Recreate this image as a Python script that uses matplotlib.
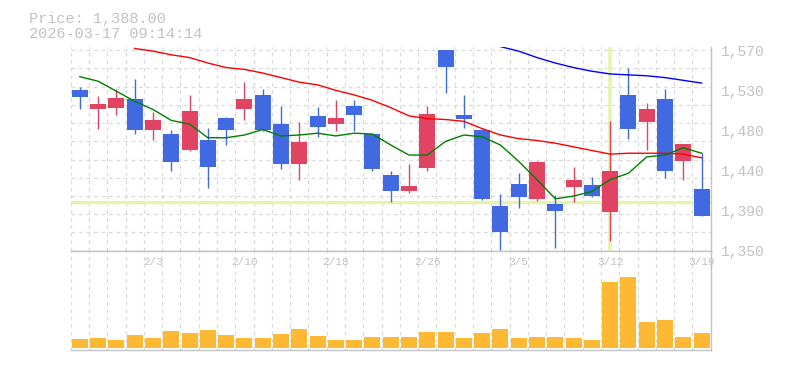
import numpy as np
import matplotlib
matplotlib.use("Agg")
import matplotlib.pyplot as plt
import matplotlib.transforms as mtransforms

# ---- Data ----
dates = ["1/28", "1/29", "1/30", "2/2", "2/3", "2/4", "2/5", "2/6", "2/9", "2/10",
         "2/12", "2/13", "2/16", "2/17", "2/18", "2/19", "2/20", "2/24", "2/25", "2/26",
         "2/27", "3/2", "3/3", "3/4", "3/5", "3/6", "3/9", "3/10", "3/11", "3/12",
         "3/13", "3/16", "3/17", "3/18", "3/19"]

opens = [1526, 1505, 1507, 1516, 1482, 1478, 1461, 1471, 1496, 1505,
         1521, 1489, 1445, 1498, 1489, 1509, 1478, 1433, 1416, 1441,
         1570, 1499, 1482, 1399, 1423, 1407, 1401, 1420, 1422, 1393,
         1521, 1491, 1516, 1449, 1418]
highs = [1530, 1520, 1527, 1538, 1502, 1483, 1521, 1485, 1497, 1535,
         1527, 1509, 1491, 1508, 1515, 1515, 1479, 1438, 1445, 1509,
         1570, 1521, 1484, 1412, 1435, 1448, 1411, 1442, 1431, 1492,
         1551, 1512, 1527, 1467, 1457]
lows = [1506, 1484, 1499, 1478, 1471, 1437, 1459, 1419, 1466, 1493,
        1481, 1440, 1428, 1475, 1481, 1481, 1438, 1403, 1413, 1437,
        1523, 1485, 1406, 1351, 1397, 1405, 1353, 1404, 1409, 1361,
        1473, 1460, 1430, 1428, 1388]
closes = [1519, 1511, 1518, 1482, 1493, 1447, 1503, 1442, 1482, 1516,
          1482, 1445, 1469, 1486, 1496, 1499, 1440, 1416, 1421, 1500,
          1552, 1495, 1407, 1371, 1409, 1447, 1394, 1428, 1410, 1438,
          1484, 1505, 1438, 1467, 1388]
volumes = [90, 100, 80, 130, 100, 170, 150, 180, 130, 100,
           100, 140, 190, 120, 80, 80, 110, 110, 110, 160,
           160, 100, 150, 190, 100, 110, 110, 100, 80, 660,
           710, 260, 280, 110, 150]

ma_short = [1541, 1536, 1525, 1514, 1505, 1493, 1489, 1474, 1474, 1477,
            1483, 1476, 1477, 1479, 1476, 1479, 1478, 1466, 1455, 1455,
            1470, 1477, 1475, 1466, 1448, 1428, 1407, 1410, 1415, 1428,
            1435, 1453, 1455, 1463, 1457]
ma_mid = [np.nan, np.nan, np.nan, 1572, 1569, 1565, 1562, 1556, 1551, 1549,
          1545, 1540, 1535, 1532, 1526, 1521, 1515, 1507, 1498, 1495,
          1494, 1492, 1484, 1477, 1473, 1471, 1468, 1464, 1460, 1456,
          1457, 1457, 1457, 1456, 1452]
ma_long = [np.nan] * 23 + [1574, 1569, 1562, 1556, 1551, 1547, 1544,
                           1543, 1542, 1540, 1537, 1534]

price_label_pos = [1350, 1394, 1438, 1482, 1526, 1570]
price_labels = ["1,350", "1,390", "1,440", "1,480", "1,530", "1,570"]
date_label_idx = list(range(4, len(dates), 5))

cursor_idx = 29
cursor_price = 1404
header_lines = ["Price: 1,388.00", "2026-03-17 09:14:14"]

# ---- Styling ----
UP = "#e04462"
DOWN = "#4169e1"
VOL = "#fdb834"
GRID = "#dadada"
AXIS = "#c4c4c4"
TEXT = "#c2c2c2"
CURSOR = "#e4f5aa"
MONO = ["Liberation Mono", "DejaVu Sans Mono"]

fig = plt.figure(figsize=(7.85, 3.70), dpi=100)
ax = fig.add_axes([0.0901, 0.3224, 0.8153, 0.5506])
axv = fig.add_axes([0.0901, 0.0532, 0.8153, 0.2692], sharex=ax)

x = np.arange(len(dates))
o = np.array(opens, float)
h = np.array(highs, float)
l = np.array(lows, float)
c = np.array(closes, float)
colors = [UP if cc >= oo else DOWN for oo, cc in zip(o, c)]

bounds = np.arange(-0.5, len(dates), 1.0)
grid_kw = dict(color=GRID, linewidth=0.9, linestyle=(0, (3, 3)))

# ---- Price panel ----
ax.set_xlim(-0.5, len(dates) - 0.5)
ax.set_ylim(1350, 1573.6)
for b in bounds:
    ax.axvline(b, zorder=0, **grid_kw)
for g in range(1350, 1571, 20):
    ax.axhline(g, zorder=0, **grid_kw)

# cursor crosshair
ax.axhline(cursor_price, color=CURSOR, linewidth=2.4, zorder=1)
ax.axvline(cursor_idx, color=CURSOR, linewidth=2.6, zorder=1)

ax.vlines(x, l, h, colors=colors, linewidth=1.0, zorder=2)
ax.bar(x, np.abs(c - o), bottom=np.minimum(o, c), width=0.875,
       color=colors, linewidth=0, zorder=3)

ax.plot(x, ma_short, color="#008000", linewidth=1.0, zorder=4)
ax.plot(x, ma_mid, color="#ff0000", linewidth=1.0, zorder=4)
ax.plot(x, ma_long, color="#0000ff", linewidth=1.0, zorder=4)

ax.yaxis.tick_right()
ax.set_yticks(price_label_pos)
ax.set_yticklabels(price_labels, family=MONO, fontsize=10.5, color=TEXT)
ax.tick_params(axis="y", length=0, pad=7)
ax.tick_params(axis="x", length=0, labelbottom=False)
for s in ["left", "top"]:
    ax.spines[s].set_visible(False)
for s in ["right", "bottom"]:
    ax.spines[s].set_color(AXIS)
    ax.spines[s].set_linewidth(1.0)

# ---- Volume panel ----
axv.set_ylim(-23, 970)
for b in bounds:
    axv.axvline(b, zorder=0, **grid_kw)
axv.bar(x, volumes, width=0.875, color=VOL, linewidth=0, zorder=2)
axv.set_yticks([])
axv.tick_params(axis="x", length=0, labelbottom=False)
axv.spines["left"].set_visible(False)
for s in ["right", "bottom", "top"]:
    axv.spines[s].set_color(AXIS)
    axv.spines[s].set_linewidth(1.0)

trans = mtransforms.blended_transform_factory(axv.transData, axv.transAxes)
for i in date_label_idx:
    axv.text(x[i], 0.89, dates[i], transform=trans, ha="center", va="center",
             family=MONO, fontsize=8, color=TEXT, zorder=5)

# ---- Header ----
fig.text(29 / 785, 1 - 23 / 370, header_lines[0], family=MONO, fontsize=11,
         color=TEXT, ha="left", va="baseline")
fig.text(29 / 785, 1 - 38.5 / 370, header_lines[1], family=MONO, fontsize=11,
         color=TEXT, ha="left", va="baseline")

fig.savefig("out.png", dpi=100)
